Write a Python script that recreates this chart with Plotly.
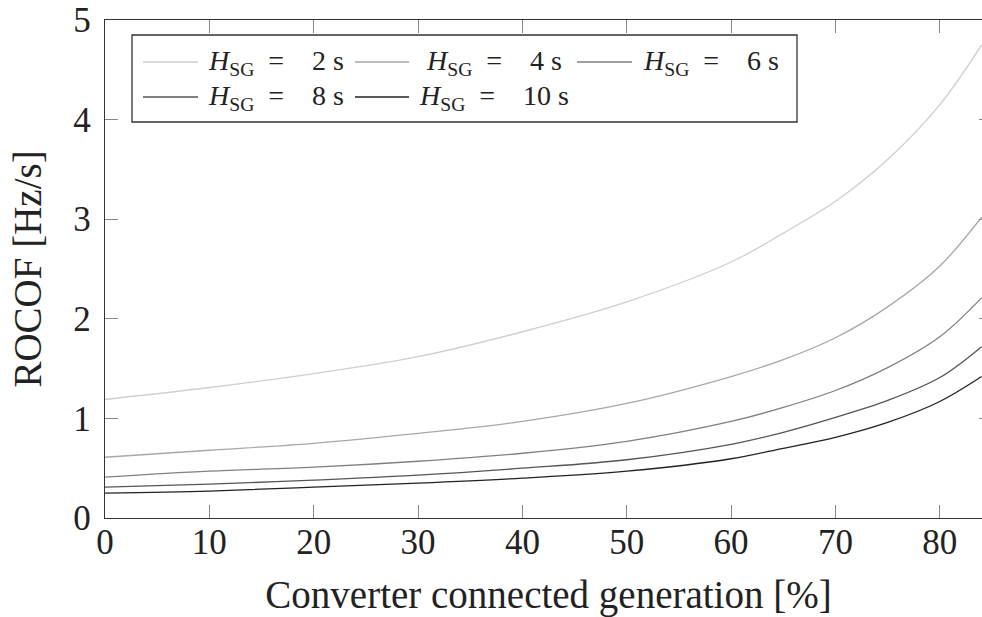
import plotly.graph_objects as go

# Data
x_pct = [0, 10, 20, 30, 40, 50, 60, 65, 70, 75, 80, 84]
rocof_h2 = [1.19, 1.31, 1.45, 1.62, 1.87, 2.17, 2.57, 2.86, 3.18, 3.60, 4.15, 4.75]
rocof_h4 = [0.61, 0.68, 0.75, 0.85, 0.97, 1.15, 1.42, 1.59, 1.81, 2.12, 2.53, 3.02]
rocof_h6 = [0.41, 0.47, 0.51, 0.57, 0.65, 0.77, 0.97, 1.11, 1.28, 1.51, 1.82, 2.21]
rocof_h8 = [0.31, 0.34, 0.38, 0.43, 0.50, 0.585, 0.74, 0.86, 1.01, 1.18, 1.41, 1.72]
rocof_h10 = [0.25, 0.27, 0.31, 0.35, 0.40, 0.47, 0.595, 0.70, 0.81, 0.96, 1.17, 1.42]
series_names = ["2", "4", "6", "8", "10"]
series_values = [rocof_h2, rocof_h4, rocof_h6, rocof_h8, rocof_h10]
x_ticks = [0, 10, 20, 30, 40, 50, 60, 70, 80]
y_ticks = [0, 1, 2, 3, 4, 5]

colors = ["#cfcfcf", "#a8a8a8", "#808080", "#555555", "#222222"]
FONT = "Liberation Serif"

# Figure is a bit wider than the window: the right axis is cropped, as in the reference.
W, H = 992, 617
L, R, T, B = 105, 0, 20, 99
PW, PH = W - L - R, H - T - B


def px(page_x):
    return (page_x - L) / PW


def py(page_y):
    return (H - B - page_y) / PH


fig = go.Figure()
for name, vals, c in zip(series_names, series_values, colors):
    fig.add_trace(go.Scatter(
        x=x_pct, y=vals, mode="lines", name=f"H_SG = {name} s",
        line=dict(color=c, width=1.3, shape="spline", smoothing=1.0),
        showlegend=False, hoverinfo="skip",
    ))

# Manual legend (pgfplots style)
shapes = [dict(type="rect", xref="paper", yref="paper",
               x0=px(132), x1=px(797), y0=py(122), y1=py(35),
               line=dict(color="#333333", width=1.3), fillcolor="white", layer="above")]
annotations = []
legend_pos = [
    (143, 198, 62, 276), (355, 409, 62, 494), (577, 632, 62, 711),
    (143, 198, 97, 276), (355, 409, 97, 494),
]
SP = "&nbsp;"
for (lx0, lx1, ly, tc), name, c in zip(legend_pos, series_names, colors):
    shapes.append(dict(type="line", xref="paper", yref="paper",
                       x0=px(lx0), x1=px(lx1), y0=py(ly), y1=py(ly),
                       line=dict(color=c, width=1.3), layer="above"))
    annotations.append(dict(
        xref="paper", yref="paper", x=px(tc), y=py(ly + 1),
        text=f"<i>H</i><sub>SG</sub>{SP*2}={SP*4}{name}{SP}s", showarrow=False,
        xanchor="center", yanchor="middle",
        font=dict(family=FONT, size=28, color="#222222"),
    ))

fig.update_layout(
    width=W, height=H,
    margin=dict(l=L, r=R, t=T, b=B, autoexpand=False),
    paper_bgcolor="white", plot_bgcolor="white",
    font=dict(family=FONT, color="#222222"),
    shapes=shapes, annotations=annotations,
    xaxis=dict(
        range=[0, 85], tickvals=x_ticks, ticks="inside", ticklen=13,
        tickcolor="#888888", tickwidth=1, showline=True, linecolor="#333333",
        linewidth=1.3, mirror="ticks", showgrid=False, zeroline=False,
        automargin=False,
        tickfont=dict(family=FONT, size=35, color="#222222"),
        title=dict(text="Converter connected generation [%]",
                   font=dict(family=FONT, size=39, color="#222222"), standoff=21),
        ticklabelstandoff=-7,
    ),
    yaxis=dict(
        range=[0, 5], tickvals=y_ticks, ticks="inside", ticklen=13,
        tickcolor="#888888", tickwidth=1, showline=True, linecolor="#333333",
        linewidth=1.3, mirror="ticks", showgrid=False, zeroline=False,
        automargin=False,
        tickfont=dict(family=FONT, size=35, color="#222222"),
        title=dict(text="ROCOF [Hz/s]",
                   font=dict(family=FONT, size=39, color="#222222"), standoff=19),
        ticklabelstandoff=6,
    ),
)

post = (
    "document.body.style.margin='0';"
    "document.body.style.overflow='hidden';"
    "document.documentElement.style.overflow='hidden';"
)
fig.write_html("out.html", post_script=post, config={"displayModeBar": False})
